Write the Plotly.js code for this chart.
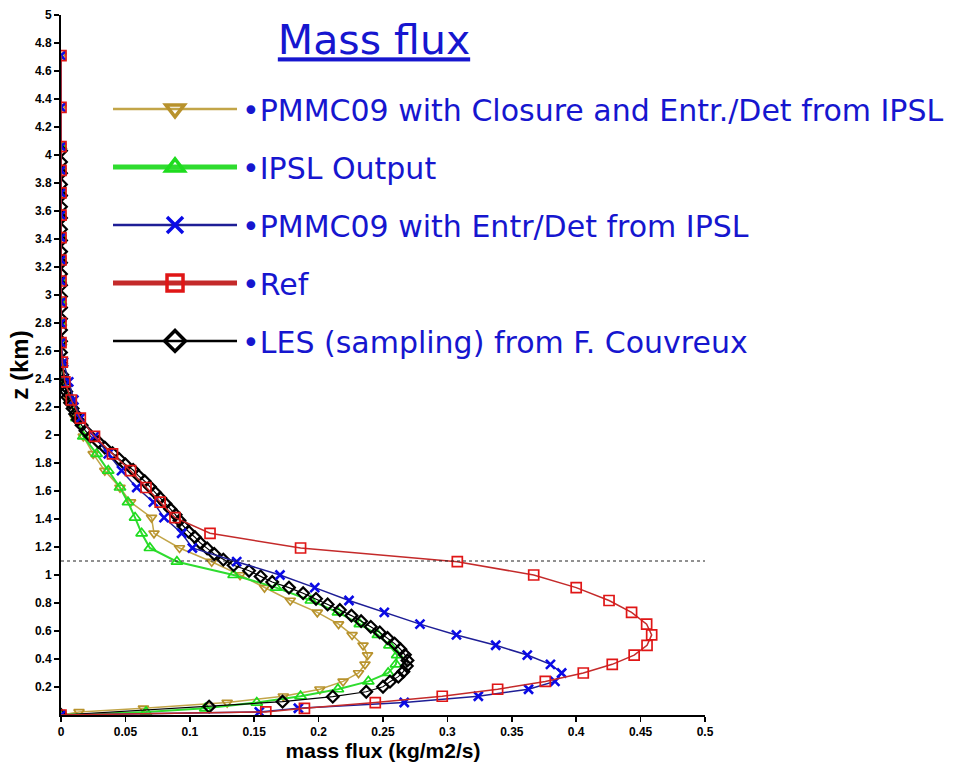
<!DOCTYPE html>
<html>
<head>
<meta charset="utf-8">
<script src="https://cdn.plot.ly/plotly-3.0.1.min.js"></script>
<style>
  html, body { margin: 0; padding: 0; background: #ffffff; }
  #chart { width: 969px; height: 762px; }
</style>
</head>
<body>
<div id="chart"></div>
<script>
// Model vertical levels (km) shared by the single-column runs
const zModel = [0, 0.022, 0.048, 0.089, 0.134, 0.184, 0.240, 0.300, 0.362, 0.428,
  0.498, 0.572, 0.649, 0.733, 0.818, 0.910, 1.000, 1.095, 1.193, 1.298,
  1.410, 1.520, 1.625, 1.745, 1.865, 1.990, 2.120, 2.250, 2.380, 2.520,
  2.660, 2.800, 2.950, 3.100, 3.250, 3.410, 3.570, 3.730, 3.890, 4.060,
  4.340, 4.710];

// IPSL output stops at 4.06 km
const zIpsl = [0, 0.022, 0.048, 0.089, 0.134, 0.184, 0.240, 0.300, 0.362, 0.428,
  0.498, 0.572, 0.649, 0.733, 0.818, 0.910, 1.000, 1.095, 1.193, 1.298,
  1.410, 1.520, 1.625, 1.745, 1.865, 1.990, 2.120, 2.250, 2.380, 2.520,
  2.660, 2.800, 2.950, 3.100, 3.250, 3.410, 3.570, 3.730, 3.890, 4.060];

// LES sampling levels (km)
const zLes = [0, 0.06, 0.095, 0.131, 0.166, 0.202, 0.238, 0.274,
  0.31, 0.35, 0.39, 0.43, 0.47, 0.51, 0.55, 0.59, 0.63, 0.67, 0.71, 0.75,
  0.79, 0.83, 0.87, 0.91, 0.95, 0.99, 1.03, 1.07, 1.11, 1.15, 1.19, 1.23,
  1.27, 1.31, 1.35, 1.39, 1.43, 1.47, 1.51, 1.55, 1.59, 1.63, 1.67, 1.71,
  1.75, 1.79, 1.83, 1.87, 1.91, 1.95, 1.99, 2.03, 2.07, 2.11, 2.15, 2.19,
  2.23, 2.27, 2.31, 2.35, 2.39, 2.43,
  2.51, 2.59, 2.67, 2.75, 2.83, 2.91, 2.99, 3.07, 3.15, 3.23, 3.31, 3.39,
  3.47, 3.55, 3.63, 3.71, 3.79, 3.87, 3.95, 4.03];

// Mass flux (kg/m2/s)
const fluxClosure = [0, 0.014, 0.064, 0.129, 0.1726, 0.201, 0.219, 0.231, 0.236, 0.238,
  0.2345, 0.226, 0.2155, 0.199, 0.178, 0.158, 0.139, 0.117, 0.092, 0.0722,
  0.0703, 0.054, 0.0458, 0.034, 0.025, 0.0173, 0.011, 0.006, 0.003, 0,
  0, 0, 0, 0, 0, 0, 0, 0, 0, 0,
  0, 0];

const fluxIpsl = [0, 0.066, 0.112, 0.152, 0.186, 0.215, 0.2386, 0.254, 0.260, 0.261,
  0.255, 0.246, 0.232, 0.215, 0.194, 0.167, 0.134, 0.090, 0.069, 0.0626,
  0.0575, 0.052, 0.0458, 0.0367, 0.0277, 0.0173, 0.012, 0.007, 0.003, 0,
  0, 0, 0, 0, 0, 0, 0, 0, 0, 0];

const fluxEntrDet = [0, 0.154, 0.1843, 0.2665, 0.324, 0.363, 0.3835, 0.3887, 0.380, 0.362,
  0.3375, 0.307, 0.2787, 0.251, 0.2236, 0.197, 0.170, 0.1364, 0.102, 0.0937,
  0.080, 0.0717, 0.0588, 0.047, 0.0367, 0.026, 0.015, 0.010, 0.006, 0.002,
  0, 0, 0, 0, 0, 0, 0, 0, 0, 0,
  0, 0];

const fluxRef = [0, 0.159, 0.189, 0.244, 0.296, 0.339, 0.376, 0.4055, 0.428, 0.445,
  0.455, 0.4586, 0.4547, 0.443, 0.4255, 0.400, 0.367, 0.3077, 0.186, 0.1157,
  0.0885, 0.077, 0.066, 0.054, 0.040, 0.026, 0.015, 0.008, 0.003, 0.001,
  0, 0, 0, 0, 0, 0, 0, 0, 0, 0,
  0, 0];

const fluxLes = [0, 0.115, 0.172, 0.211, 0.237, 0.250, 0.2554, 0.2619,
  0.2658, 0.2685, 0.2690, 0.2670, 0.2635, 0.2590, 0.2535, 0.2475, 0.2405, 0.2330, 0.2255, 0.2165,
  0.2070, 0.1980, 0.1880, 0.1770, 0.1640, 0.1550, 0.1460, 0.1340, 0.1260, 0.1190, 0.1135, 0.1080,
  0.1040, 0.0990, 0.0950, 0.0920, 0.0890, 0.0850, 0.0810, 0.0770, 0.0730, 0.0690, 0.0650, 0.0600,
  0.0560, 0.0500, 0.0450, 0.0400, 0.0340, 0.0290, 0.0230, 0.0190, 0.0160, 0.0130, 0.0110, 0.0090,
  0.0070, 0.0050, 0.0040, 0.0030, 0.0020, 0.0010,
  0, 0, 0, 0, 0, 0, 0, 0, 0, 0, 0, 0, 0, 0, 0, 0, 0, 0, 0, 0];

// Series labels
const seriesNames = [
  '•PMMC09 with Closure and Entr./Det from IPSL',
  '•IPSL Output',
  '•PMMC09 with Entr/Det from IPSL',
  '•Ref',
  '•LES (sampling) from F. Couvreux'
];

// Axis ticks
const xTicks = [0, 0.05, 0.1, 0.15, 0.2, 0.25, 0.3, 0.35, 0.4, 0.45, 0.5];
const yTicks = [0.2, 0.4, 0.6, 0.8, 1, 1.2, 1.4, 1.6, 1.8, 2, 2.2, 2.4, 2.6, 2.8,
  3, 3.2, 3.4, 3.6, 3.8, 4, 4.2, 4.4, 4.6, 4.8, 5];

// Boundary-layer top marker (km)
const zInversion = 1.1;

// Drawing styles per series (same order as seriesNames)
const styles = [
  { line: '#c2a548', lw: 1.5, mk: 'triangle-down-open', mc: '#b8922c', ms: 9, mlw: 1.7, legLw: 2.5 },
  { line: '#2fdc2f', lw: 2, mk: 'triangle-up-open', mc: '#1edc1e', ms: 10, mlw: 1.7, legLw: 5 },
  { line: '#1e1e96', lw: 1.5, mk: 'x-thin-open', mc: '#0a0ae6', ms: 9, mlw: 2.6, legLw: 2.5 },
  { line: '#c42a2a', lw: 1.5, mk: 'square-open', mc: '#e01616', ms: 10, mlw: 1.7, legLw: 5 },
  { line: '#000000', lw: 1.2, mk: 'diamond-open', mc: '#000000', ms: 9, mlw: 2.2, legLw: 2.5 }
];

const seriesX = [fluxClosure, fluxIpsl, fluxEntrDet, fluxRef, fluxLes];
const seriesZ = [zModel, zIpsl, zModel, zModel, zLes];

function profile(i) {
  const s = styles[i];
  return {
    type: 'scatter', mode: 'lines+markers',
    x: seriesX[i], y: seriesZ[i],
    name: seriesNames[i], showlegend: false,
    line: { color: s.line, width: s.lw },
    marker: { symbol: s.mk, size: s.ms, color: s.mc, line: { color: s.mc, width: s.mlw } },
    hoverinfo: 'x+y'
  };
}

// Stacking order of the profiles on the plot
const drawOrder = [0, 1, 4, 2, 3];
const traces = drawOrder.map(profile);

// Legend entries with heavier keys
seriesNames.forEach(function (name, i) {
  const s = styles[i];
  traces.push({
    type: 'scatter', mode: 'lines+markers',
    x: [null], y: [null],
    name: name, legendgroup: 'g' + i, showlegend: true,
    line: { color: s.line, width: s.legLw },
    marker: { symbol: s.mk, size: 16, color: s.mc, line: { color: s.mc, width: 3.5 } }
  });
});

const tickFont = { family: 'Liberation Sans, Arial, sans-serif', size: 12, color: '#000', weight: 'bold' };
const blueText = '#1616cf';

const layout = {
  width: 969, height: 762,
  margin: { l: 61, r: 264, t: 15, b: 47 },
  paper_bgcolor: '#ffffff', plot_bgcolor: '#ffffff',
  showlegend: true,
  title: {
    text: 'Mass flux',
    font: { family: 'DejaVu Sans, sans-serif', size: 41, color: blueText, lineposition: 'under' },
    xref: 'container', x: 374 / 969, xanchor: 'center',
    yref: 'container', y: 1 - 40 / 762, yanchor: 'middle'
  },
  xaxis: {
    range: [0, 0.5], tickvals: xTicks,
    ticks: 'outside', ticklen: 5, tickwidth: 1.5, tickcolor: '#000',
    showline: true, linewidth: 2, linecolor: '#000',
    showgrid: false, zeroline: false,
    tickfont: tickFont,
    title: { text: 'mass flux (kg/m2/s)', standoff: 6,
      font: { family: 'Liberation Sans, Arial, sans-serif', size: 21, color: '#000', weight: 'bold' } }
  },
  yaxis: {
    range: [0, 5], tickvals: yTicks,
    ticks: 'outside', ticklen: 5, tickwidth: 1.5, tickcolor: '#000',
    showline: true, linewidth: 2, linecolor: '#000',
    showgrid: false, zeroline: false,
    tickfont: tickFont,
    title: { text: 'z (km)', standoff: 0,
      font: { family: 'Liberation Sans, Arial, sans-serif', size: 24, color: '#000', weight: 'bold' } }
  },
  legend: {
    x: 0.073, y: 0.903, xanchor: 'left', yanchor: 'top',
    xref: 'paper', yref: 'paper',
    bgcolor: 'rgba(0,0,0,0)', borderwidth: 0,
    itemwidth: 124, tracegroupgap: 16, traceorder: 'grouped',
    font: { family: 'DejaVu Sans, sans-serif', size: 30, color: blueText }
  },
  shapes: [{
    type: 'line', xref: 'x', yref: 'y',
    x0: 0, x1: 0.5, y0: zInversion, y1: zInversion,
    line: { color: '#222', width: 1, dash: 'dot' }
  }]
};

Plotly.newPlot('chart', traces, layout, { displayModeBar: false, staticPlot: true });
</script>
</body>
</html>
